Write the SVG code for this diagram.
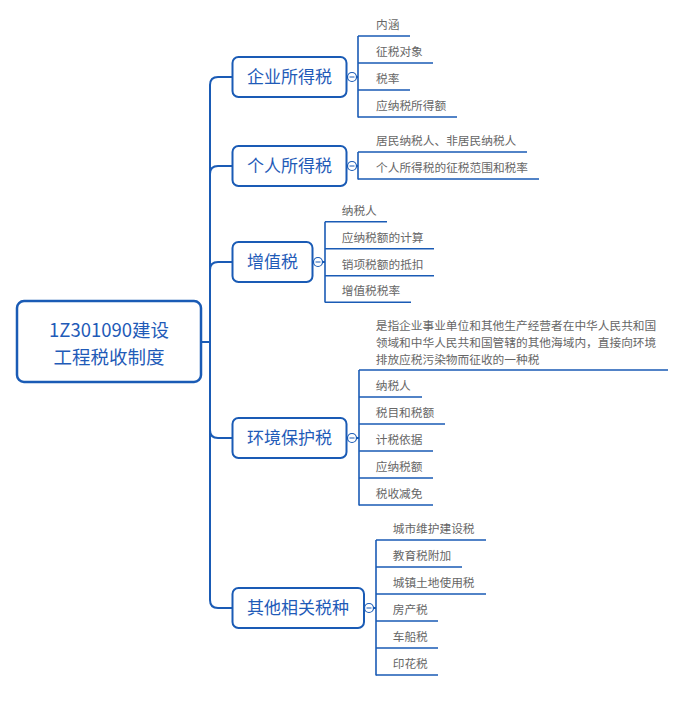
<svg xmlns="http://www.w3.org/2000/svg" width="681" height="705" viewBox="0 0 681 705">
<style>
.box{fill:#fff;stroke:#1a5bb5;stroke-width:2}
.main{font-family:"Noto Sans CJK SC","Noto Sans",sans-serif;font-size:17px;fill:#1f5bb8;text-anchor:middle}
.root{font-size:18.5px}
.sub{font-family:"Noto Sans CJK SC","Noto Sans",sans-serif;font-size:11.7px;fill:#666}
.ln{fill:none;stroke:#1a5bb5;stroke-width:2}
.ul{fill:none;stroke:#1a5bb5;stroke-width:1.6}
.tog{fill:#fff;stroke:#1a5bb5;stroke-width:1.2}
.minus{stroke:#1a5bb5;stroke-width:1}
</style>
<g id="connectors">
<path class="ln" d="M201,342 H210"/>
<path class="ln" d="M232,77 H218 Q210,77 210,85 V600 Q210,608 218,608 H232"/>
<path class="ln" d="M232,166 H218 Q210,166 210,174"/>
<path class="ln" d="M232,262 H218 Q210,262 210,270"/>
<path class="ln" d="M232,438 H218 Q210,438 210,430"/>
<path class="ln" d="M347,77 H358"/>
<path class="ln" d="M347,166 H358"/>
<path class="ln" d="M312,262 H325"/>
<path class="ln" d="M347,438 H359"/>
<path class="ln" d="M364,608 H376"/>
<!-- 企业所得税 -->
<path class="ul" d="M358,36 V117.5"/>
<path class="ul" d="M358,36 H410 M358,63 H433 M358,90 H410 M358,117 H457"/>
<!-- 个人所得税 -->
<path class="ul" d="M358,152 V179.5"/>
<path class="ul" d="M358,152 H527 M358,179 H539"/>
<!-- 增值税 -->
<path class="ul" d="M325,221.7 V302.5"/>
<path class="ul" d="M325,221.7 H387 M325,248.7 H434 M325,275.7 H434 M325,302.3 H411"/>
<!-- 环境保护税 -->
<path class="ul" d="M359,370 V505.5"/>
<path class="ul" d="M359,370 H668 M359,397 H422 M359,424 H445 M359,451 H433 M359,478 H433 M359,505 H433"/>
<!-- 其他相关税种 -->
<path class="ul" d="M376,540 V675.5"/>
<path class="ul" d="M376,540 H486 M376,567 H462 M376,594 H486 M376,621 H438 M376,648 H438 M376,675 H438"/>
<g id="toggles">
<circle class="tog" cx="352" cy="77" r="4.5"/><path class="minus" d="M349.5,77 H354.5"/>
<circle class="tog" cx="352" cy="166" r="4.5"/><path class="minus" d="M349.5,166 H354.5"/>
<circle class="tog" cx="318" cy="262" r="4.5"/><path class="minus" d="M315.5,262 H320.5"/>
<circle class="tog" cx="352" cy="438" r="4.5"/><path class="minus" d="M349.5,438 H354.5"/>
<circle class="tog" cx="369" cy="608" r="4.5"/><path class="minus" d="M366.5,608 H371.5"/>
</g>
</g>
<g id="root">
<rect class="box" x="17" y="301" width="184" height="81" rx="7" style="stroke-width:2.5"/>
<text class="main root" x="109" y="336.5">1Z301090建设</text>
<text class="main root" x="109" y="363.5">工程税收制度</text>
</g>
<g id="n1">
<rect class="box" x="232.5" y="57" width="114" height="40" rx="6"/>
<text class="main" x="289.5" y="83">企业所得税</text>
</g>
<g id="n1c">
<text class="sub" x="376" y="29">内涵</text>
<text class="sub" x="376" y="56">征税对象</text>
<text class="sub" x="376" y="83">税率</text>
<text class="sub" x="376" y="110">应纳税所得额</text>
</g>
<g id="n2">
<rect class="box" x="232.5" y="146" width="114" height="40" rx="6"/>
<text class="main" x="289.5" y="172">个人所得税</text>
</g>
<g id="n2c">
<text class="sub" x="376" y="145">居民纳税人、非居民纳税人</text>
<text class="sub" x="376" y="172">个人所得税的征税范围和税率</text>
</g>
<g id="n3">
<rect class="box" x="232.5" y="242" width="80" height="40" rx="6"/>
<text class="main" x="272.5" y="268">增值税</text>
</g>
<g id="n3c">
<text class="sub" x="341.7" y="214.7">纳税人</text>
<text class="sub" x="341.7" y="241.7">应纳税额的计算</text>
<text class="sub" x="341.7" y="268.7">销项税额的抵扣</text>
<text class="sub" x="341.7" y="295.3">增值税税率</text>
</g>
<g id="n4">
<rect class="box" x="232.5" y="418" width="114" height="40" rx="6"/>
<text class="main" x="289.5" y="444">环境保护税</text>
</g>
<g id="n4c">
<text class="sub" x="375.7" y="329.5">是指企业事业单位和其他生产经营者在中华人民共和国</text>
<text class="sub" x="375.7" y="346.5">领域和中华人民共和国管辖的其他海域内，直接向环境</text>
<text class="sub" x="375.7" y="363.5">排放应税污染物而征收的一种税</text>
<text class="sub" x="375.7" y="390">纳税人</text>
<text class="sub" x="375.7" y="417">税目和税额</text>
<text class="sub" x="375.7" y="444">计税依据</text>
<text class="sub" x="375.7" y="471">应纳税额</text>
<text class="sub" x="375.7" y="498">税收减免</text>
</g>
<g id="n5">
<rect class="box" x="232.5" y="588" width="131.5" height="40" rx="6"/>
<text class="main" x="298" y="614">其他相关税种</text>
</g>
<g id="n5c">
<text class="sub" x="392.7" y="533">城市维护建设税</text>
<text class="sub" x="392.7" y="560">教育税附加</text>
<text class="sub" x="392.7" y="587">城镇土地使用税</text>
<text class="sub" x="392.7" y="614">房产税</text>
<text class="sub" x="392.7" y="641">车船税</text>
<text class="sub" x="392.7" y="668">印花税</text>
</g>
</svg>
